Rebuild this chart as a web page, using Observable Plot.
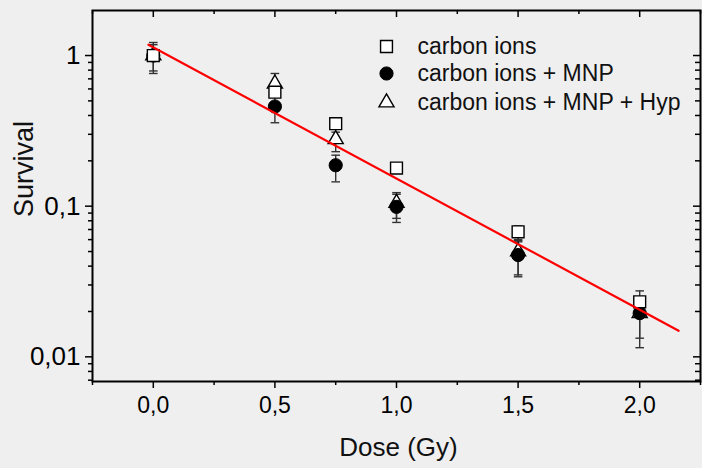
<!DOCTYPE html>
<html><head><meta charset="utf-8">
<script src="https://cdn.jsdelivr.net/npm/d3@7"></script>
<script src="https://cdn.jsdelivr.net/npm/@observablehq/plot@0.6"></script>
<style>
html,body{margin:0;padding:0;background:#efefef;}
#chart svg{display:block;}
</style></head><body><div id="chart"></div>
<script>
// ---- data ----
const doses = [0, 0.5, 0.75, 1.0, 1.5, 2.0];
const seriesNames = ["carbon ions", "carbon ions + MNP", "carbon ions + MNP + Hyp"];

const carbon    = [1.0, 0.571, 0.353, 0.179, 0.0676, 0.0232];
const carbonLo  = [0.79, 0.53, 0.325, 0.166, 0.060, 0.0212];
const carbonHi  = [1.18, 0.61, 0.383, 0.193, 0.074, 0.0274];

const mnp       = [1.0, 0.459, 0.187, 0.099, 0.0474, 0.0195];
const mnpLo     = [0.76, 0.358, 0.145, 0.078, 0.035, 0.0115];
const mnpHi     = [1.22, 0.53, 0.218, 0.120, 0.058, 0.0220];

const hyp       = [1.0, 0.65, 0.278, 0.105, 0.050, 0.0195];
const hypLo     = [0.92, 0.57, 0.230, 0.083, 0.034, 0.0133];
const hypHi     = [1.08, 0.76, 0.310, 0.123, 0.059, 0.0220];

const fitDose     = [-0.02, 2.16];
const fitSurvival = [1.18, 0.0149];

const xMajorTicks = [0, 0.5, 1.0, 1.5, 2.0];
const xMinorTicks = [-0.25, 0.25, 0.75, 1.25, 1.75, 2.25];
const yMajorTicks = [0.01, 0.1, 1];
const yMinorTicks = [0.007, 0.008, 0.009, 0.02, 0.03, 0.04, 0.05, 0.06, 0.07, 0.08, 0.09,
                     0.2, 0.3, 0.4, 0.5, 0.6, 0.7, 0.8, 0.9];
const xLabel = "Dose (Gy)";
const yLabel = "Survival";

// ---- build tables ----
const rows = (v, lo, hi) => doses.map((d, i) => ({dose: d, s: v[i], lo: lo[i], hi: hi[i]}));
const carbonRows = rows(carbon, carbonLo, carbonHi);
const mnpRows = rows(mnp, mnpLo, mnpHi);
const hypRows = rows(hyp, hypLo, hypHi);
const allRows = [...hypRows, ...mnpRows, ...carbonRows];
const fitRows = fitDose.map((d, i) => ({dose: d, s: fitSurvival[i]}));

const W = 702, H = 468, mL = 92, mT = 10, mR = 2, mB = 87;
const plotW = W - mL - mR, plotH = H - mT - mB;

const fmtX = d => d.toFixed(1).replace(".", ",");
const fmtY = d => String(d).replace(".", ",");

const cap = {draw(ctx, size) { const w = Math.sqrt(size / Math.PI); ctx.moveTo(-w, 0); ctx.lineTo(w, 0); }};
const errColor = "#333";

const markStyle = {
  square: {symbol: "square", r: 6.7, fill: "white", stroke: "black", strokeWidth: 1.4},
  circle: {symbol: "circle", r: 6.6, fill: "black", stroke: "black", strokeWidth: 1},
  triangle: {symbol: "triangle", r: 5.6, fill: "white", stroke: "black", strokeWidth: 1.4}
};
const legendStyles = [markStyle.square, markStyle.circle, markStyle.triangle];
const legendDy = [36, 63, 92];

const chart = Plot.plot({
  width: W, height: H,
  marginLeft: mL, marginTop: mT, marginRight: mR, marginBottom: mB,
  style: {fontFamily: "'Liberation Sans', Arial, sans-serif", fontSize: "23px", background: "#efefef", color: "#000"},
  x: {domain: [-0.25, 2.25]},
  y: {type: "log", domain: [0.00686, 1.99]},
  marks: [
    // axes (outward) left & bottom
    Plot.axisX(xMajorTicks, {anchor: "bottom", tickSize: 7, tickPadding: 8, tickFormat: fmtX, fontSize: 23, strokeWidth: 1.5, label: null}),
    Plot.axisX(xMinorTicks, {anchor: "bottom", tickSize: 4, tickFormat: () => "", strokeWidth: 1.5, label: null}),
    Plot.axisY(yMajorTicks, {anchor: "left", tickSize: 7, tickPadding: 5, tickFormat: fmtY, fontSize: 26, strokeWidth: 1.5, label: null}),
    Plot.axisY(yMinorTicks, {anchor: "left", tickSize: 4, tickFormat: () => "", strokeWidth: 1.5, label: null}),
    // inward ticks top & right
    Plot.tickX(xMajorTicks, {x: d => d, insetBottom: plotH - 7, stroke: "black", strokeWidth: 1.5}),
    Plot.tickX(xMinorTicks, {x: d => d, insetBottom: plotH - 4, stroke: "black", strokeWidth: 1.5}),
    Plot.tickY(yMajorTicks, {y: d => d, insetLeft: plotW - 7, stroke: "black", strokeWidth: 1.5}),
    Plot.tickY(yMinorTicks, {y: d => d, insetLeft: plotW - 5, stroke: "black", strokeWidth: 1.5}),
    // error bars
    Plot.ruleX(allRows, {x: "dose", y1: "lo", y2: "hi", stroke: errColor, strokeWidth: 1.4}),
    Plot.dot(allRows, {x: "dose", y: "lo", symbol: cap, r: 4.3, stroke: errColor, strokeWidth: 1.4}),
    Plot.dot(allRows, {x: "dose", y: "hi", symbol: cap, r: 4.3, stroke: errColor, strokeWidth: 1.4}),
    // markers
    Plot.dot(hypRows, {x: "dose", y: "s", ...markStyle.triangle}),
    Plot.dot(mnpRows, {x: "dose", y: "s", ...markStyle.circle}),
    Plot.dot(carbonRows, {x: "dose", y: "s", ...markStyle.square}),
    // fit line
    Plot.line(fitRows, {x: "dose", y: "s", stroke: "#ff0000", strokeWidth: 2.2}),
    // legend
    ...seriesNames.map((name, i) => Plot.dot([name], {frameAnchor: "top-left", dx: 294, dy: legendDy[i], ...legendStyles[i]})),
    ...seriesNames.map((name, i) => Plot.text([name], {frameAnchor: "top-left", dx: 325, dy: legendDy[i], text: d => d, textAnchor: "start", lineAnchor: "middle", fontSize: 23, fill: "#111"})),
    // axis labels
    Plot.text([yLabel], {frameAnchor: "left", dx: -68, dy: -27, text: d => d, rotate: -90, textAnchor: "middle", lineAnchor: "middle", fontSize: 27, fill: "#111"}),
    Plot.text([xLabel], {frameAnchor: "bottom", dx: 2, dy: 66, text: d => d, textAnchor: "middle", lineAnchor: "middle", fontSize: 26, fill: "#111"}),
    Plot.frame({stroke: "black", strokeWidth: 2})
  ]
});
document.getElementById("chart").appendChild(chart);
</script>
</body></html>
